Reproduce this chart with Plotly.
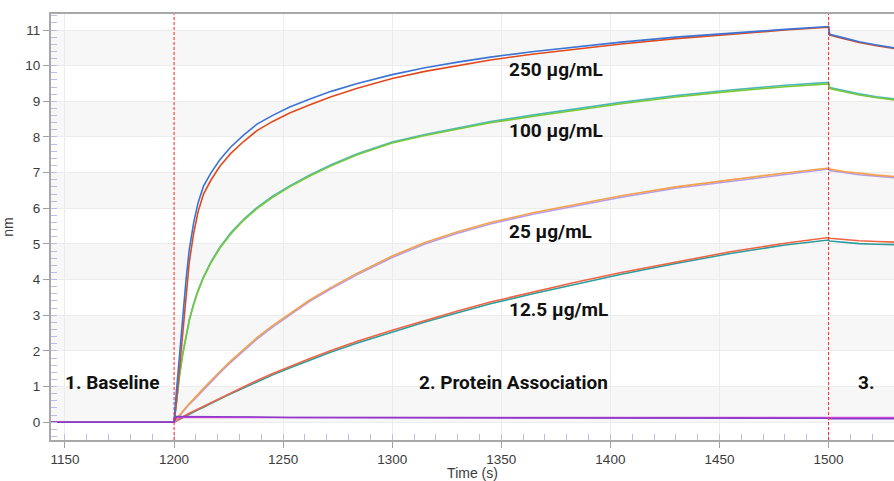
import plotly.graph_objects as go

# ---- data ----
time_s = [1143, 1200, 1201, 1202.5, 1204, 1205.5, 1207, 1209, 1211, 1213.5, 1217, 1221, 1226, 1232,
          1238, 1245, 1253, 1262, 1272, 1284, 1300, 1315, 1330, 1345, 1365, 1385, 1405, 1430,
          1455, 1480, 1500, 1500.5, 1507, 1514, 1522, 1530]

c250_blue = [0, 0, 0.8, 1.9, 3.0, 4.0, 4.85, 5.6, 6.15, 6.62, 7.0, 7.36, 7.72, 8.06,
             8.36, 8.60, 8.84, 9.06, 9.28, 9.50, 9.75, 9.94, 10.10, 10.24, 10.40, 10.53, 10.66, 10.80,
             10.92, 11.02, 11.10, 10.88, 10.78, 10.67, 10.58, 10.50]
c250_red = [0, 0, 0.5, 1.5, 2.6, 3.6, 4.5, 5.3, 5.9, 6.4, 6.8, 7.18, 7.54, 7.88,
            8.18, 8.43, 8.67, 8.90, 9.13, 9.37, 9.64, 9.84, 10.01, 10.16, 10.33, 10.47, 10.61, 10.76,
            10.89, 11.00, 11.08, 10.86, 10.76, 10.65, 10.56, 10.48]
c100_green = [0, 0, 0.5, 1.3, 1.9, 2.4, 2.85, 3.3, 3.67, 4.05, 4.48, 4.88, 5.28, 5.67,
              5.99, 6.30, 6.60, 6.90, 7.19, 7.50, 7.83, 8.04, 8.22, 8.40, 8.58, 8.76, 8.93, 9.12,
              9.28, 9.41, 9.49, 9.36, 9.27, 9.18, 9.10, 9.04]
c100_teal = [0, 0, 0.52, 1.32, 1.93, 2.43, 2.88, 3.33, 3.70, 4.08, 4.51, 4.91, 5.31, 5.70,
             6.02, 6.33, 6.63, 6.93, 7.22, 7.53, 7.86, 8.07, 8.25, 8.43, 8.62, 8.80, 8.97, 9.16,
             9.32, 9.45, 9.53, 9.39, 9.30, 9.21, 9.13, 9.07]
c25_orange = [0, 0, 0.08, 0.2, 0.32, 0.42, 0.52, 0.64, 0.78, 0.95, 1.18, 1.42, 1.72, 2.05,
              2.37, 2.70, 3.05, 3.42, 3.78, 4.18, 4.66, 5.04, 5.34, 5.60, 5.88, 6.12, 6.35, 6.60,
              6.80, 6.99, 7.13, 7.10, 7.03, 6.98, 6.93, 6.89]
c25_lilac = [0, 0, 0.07, 0.18, 0.3, 0.4, 0.5, 0.62, 0.75, 0.92, 1.15, 1.38, 1.68, 2.01,
             2.33, 2.66, 3.01, 3.38, 3.74, 4.14, 4.62, 5.00, 5.30, 5.56, 5.84, 6.08, 6.31, 6.56,
             6.76, 6.95, 7.10, 7.06, 7.00, 6.94, 6.90, 6.86]
c12_red = [0, 0, 0.04, 0.1, 0.14, 0.2, 0.25, 0.31, 0.37, 0.44, 0.55, 0.68, 0.83, 1.0,
           1.17, 1.36, 1.56, 1.78, 2.01, 2.27, 2.58, 2.86, 3.12, 3.37, 3.66, 3.94, 4.20, 4.50,
           4.78, 5.02, 5.18, 5.16, 5.12, 5.09, 5.07, 5.05]
c12_teal = [0, 0, 0.03, 0.08, 0.12, 0.18, 0.23, 0.29, 0.35, 0.42, 0.52, 0.65, 0.80, 0.97,
            1.14, 1.32, 1.52, 1.74, 1.97, 2.22, 2.53, 2.81, 3.07, 3.32, 3.61, 3.89, 4.15, 4.45,
            4.73, 4.97, 5.11, 5.08, 5.04, 5.01, 4.99, 4.98]
ref_magenta = [0, 0, 0.13, 0.13, 0.13, 0.13, 0.13, 0.13, 0.13, 0.13, 0.13, 0.13, 0.13, 0.13,
               0.13, 0.13, 0.13, 0.13, 0.13, 0.13, 0.13, 0.13, 0.13, 0.13, 0.13, 0.13, 0.13, 0.13,
               0.13, 0.13, 0.13, 0.13, 0.13, 0.13, 0.13, 0.13]
ref_purple = [0, 0, 0.16, 0.16, 0.15, 0.16, 0.15, 0.15, 0.16, 0.15, 0.15, 0.14, 0.15, 0.14,
              0.14, 0.14, 0.13, 0.13, 0.13, 0.13, 0.12, 0.12, 0.12, 0.12, 0.12, 0.11, 0.11, 0.11,
              0.11, 0.11, 0.11, 0.10, 0.10, 0.10, 0.10, 0.10]

# drawing order: later traces sit on top
series = [
    ("12.5 teal", c12_teal, "#2e9c9c"),
    ("12.5 red", c12_red, "#f06444"),
    ("25 lilac", c25_lilac, "#b69ce8"),
    ("25 orange", c25_orange, "#f3a14a"),
    ("100 teal", c100_teal, "#4ab8ba"),
    ("100 green", c100_green, "#78c83a"),
    ("250 red", c250_red, "#e04a1c"),
    ("250 blue", c250_blue, "#3b74d6"),
    ("ref magenta", ref_magenta, "#e04ce0"),
    ("ref purple", ref_purple, "#8a3cc8"),
]

phase_lines = [1200, 1500]
phase_labels = [("1. Baseline", 1171.5, 1.12), ("2. Protein Association", 1355.6, 1.12), ("3.", 1517.2, 1.12)]
conc_labels = [("250 µg/mL", 1352.8, 9.89), ("100 µg/mL", 1352.8, 8.17),
               ("25 µg/mL", 1352.8, 5.34), ("12.5 µg/mL", 1352.8, 3.17)]
band_starts = [0, 2, 4, 6, 8, 10]

fig = go.Figure()
for name, ys, col in series:
    fig.add_trace(go.Scatter(x=time_s, y=ys, mode="lines", name=name,
                             line=dict(color=col, width=1.6), showlegend=False))

shapes = []
for b in band_starts:
    shapes.append(dict(type="rect", xref="paper", yref="y", x0=0, x1=1, y0=b, y1=b + 1,
                       fillcolor="#f7f7f7", line=dict(width=0), layer="below"))
for t in phase_lines:
    shapes.append(dict(type="line", xref="x", yref="paper", x0=t, x1=t, y0=0, y1=1,
                       line=dict(color="#ff2a2a", width=1, dash="3px,2px")))

label_font = dict(family="Roboto", size=19, color="#111111", weight="bold")
annotations = []
for txt, x, y in phase_labels:
    annotations.append(dict(text=txt, x=x, y=y, xref="x", yref="y", showarrow=False,
                            xanchor="center", yanchor="middle", font=label_font))
for txt, x, y in conc_labels:
    annotations.append(dict(text=txt, x=x, y=y, xref="x", yref="y", showarrow=False,
                            xanchor="left", yanchor="middle", font=label_font))

tick_font = dict(family="Arial", size=13.5, color="#3c3c3c")
title_font = dict(family="Arial", size=14, color="#3c3c3c")
fig.update_layout(
    width=894, height=481,
    margin=dict(l=51, r=0, t=14, b=41),
    paper_bgcolor="white", plot_bgcolor="white",
    shapes=shapes, annotations=annotations,
    xaxis=dict(range=[1143.6, 1530], tickvals=[1150, 1200, 1250, 1300, 1350, 1400, 1450, 1500],
               showgrid=True, gridcolor="#ececec", gridwidth=1, zeroline=False,
               showline=True, linecolor="#a8a8a8", linewidth=2, mirror=True,
               ticks="outside", ticklen=6, tickcolor="#a0a0a0",
               minor=dict(ticks="inside", dtick=10, ticklen=6, tickcolor="#bcbcf0", showgrid=False),
               tickfont=tick_font,
               title=dict(text="Time (s)", font=title_font, standoff=5)),
    yaxis=dict(range=[-0.5, 11.45], tickvals=list(range(0, 12)),
               showgrid=True, gridcolor="#ececec", gridwidth=1, zeroline=False,
               showline=True, linecolor="#a8a8a8", linewidth=2,
               ticks="outside", ticklen=6, tickcolor="#a0a0a0",
               minor=dict(ticks="inside", dtick=0.2, ticklen=6, tickcolor="#bcbcf0", showgrid=False),
               tickfont=tick_font,
               title=dict(text="nm", font=title_font, standoff=8)),
)

fig.write_html("out.html")
